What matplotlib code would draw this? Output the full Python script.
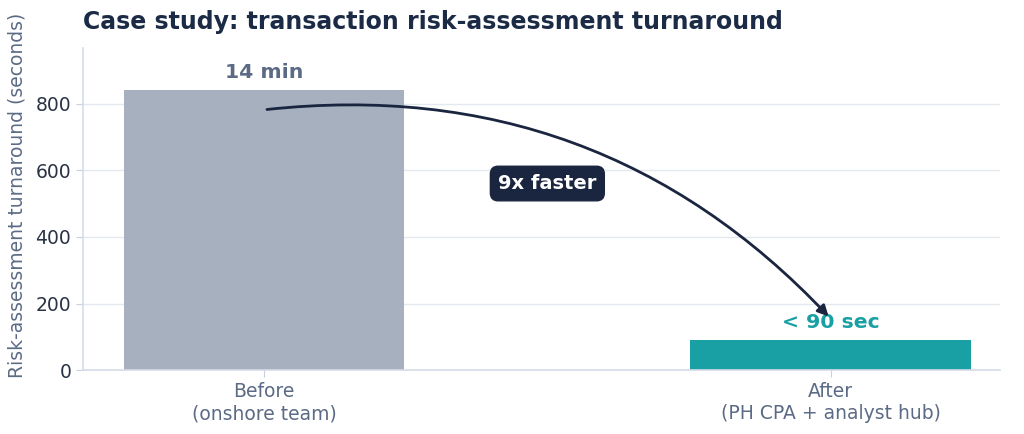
import matplotlib
matplotlib.use("Agg")
import matplotlib.pyplot as plt

plt.rcParams["font.family"] = ["DejaVu Sans"]

# data
categories = ["Before\n(onshore team)", "After\n(PH CPA + analyst hub)"]
seconds = [840, 90]
bar_labels = ["14 min", "< 90 sec"]
bar_colors = ["#a6b0bf", "#18a0a4"]
label_colors = ["#5c6b85", "#18a0a4"]
speedup_text = "9x faster"

navy = "#1a2540"

fig = plt.figure(figsize=(10.24, 4.34), dpi=100)
ax = fig.add_axes([0.081, 0.147, 0.896, 0.742])

x = list(range(len(categories)))
ax.bar(x, seconds, width=0.495, color=bar_colors, zorder=2)

for xi, v, lab, c in zip(x, seconds, bar_labels, label_colors):
    ax.annotate(lab, (xi, v), xytext=(0, 6), textcoords="offset points",
                ha="center", va="bottom", fontsize=14.7, fontweight="bold", color=c)

# curved arrow from before bar to after bar
ax.annotate("", xy=(x[1], seconds[1] + 65), xytext=(x[0], seconds[0] * 0.93),
            arrowprops=dict(arrowstyle="-|>", color=navy, lw=2,
                            mutation_scale=16,
                            connectionstyle="arc3,rad=-0.25"), zorder=3)
ax.text(0.5, 560, speedup_text, ha="center", va="center", fontsize=14,
        fontweight="bold", color="white", zorder=4,
        bbox=dict(boxstyle="round,pad=0.4", fc=navy, ec=navy))

ax.set_xlim(-0.32, 1.30)
ax.set_ylim(0, 966)
ax.set_yticks([0, 200, 400, 600, 800])
ax.set_xticks(x)
ax.set_xticklabels(categories, color="#5c6b85", fontsize=13.5)
ax.tick_params(axis="y", labelsize=13.5, labelcolor="#2a3345", color="#c8d0dc", length=5)
ax.tick_params(axis="x", color="#c8d0dc", length=5)
ax.set_ylabel("Risk-assessment turnaround (seconds)", color="#5c6b85", fontsize=13.5)
ax.yaxis.set_label_coords(-0.062, 0.543)

ax.grid(axis="y", color="#e4e8ef", lw=1, zorder=0)
ax.set_axisbelow(True)
for s in ["top", "right"]:
    ax.spines[s].set_visible(False)
for s in ["left", "bottom"]:
    ax.spines[s].set_color("#d5dce8")
    ax.spines[s].set_linewidth(1.2)

fig.text(0.081, 0.95, "Case study: transaction risk-assessment turnaround",
         fontsize=17, fontweight="bold", color="#1b2a45", ha="left", va="center")

fig.savefig("out.png", dpi=100)
